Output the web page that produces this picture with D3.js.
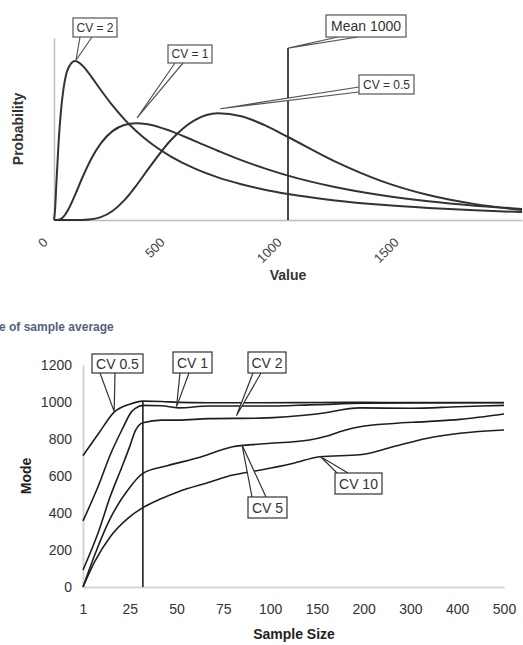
<!DOCTYPE html>
<html>
<head>
<meta charset="utf-8">
<script src="https://d3js.org/d3.v7.min.js"></script>
<style>
  body { margin: 0; background: #fff; }
  svg { display: block; font-family: "Liberation Sans", Arial, sans-serif; }
</style>
</head>
<body>
<div id="chart"></div>
<script>
var values = [0, 5, 10, 20, 30, 40, 60, 90, 120, 160, 200, 250, 300, 350, 400, 500, 600, 700, 800, 900, 1000, 1200, 1400, 1600, 1800, 2000];
var probCV2 = [0, 1.19, 3.54, 7.83, 10.85, 12.86, 14.96, 15.72, 15.31, 14.16, 12.86, 11.33, 9.98, 8.82, 7.83, 6.27, 5.10, 4.22, 3.54, 3.00, 2.57, 1.94, 1.50, 1.19, 0.96, 0.78];
var probCV1 = [0, 0, 0, 0.02, 0.12, 0.31, 0.99, 2.48, 4.13, 6.09, 7.58, 8.79, 9.40, 9.58, 9.48, 8.79, 7.83, 6.85, 5.92, 5.11, 4.39, 3.26, 2.44, 1.85, 1.42, 1.10];
var probCV05 = [0, 0, 0, 0, 0, 0, 0, 0, 0.01, 0.07, 0.28, 0.89, 1.94, 3.36, 4.95, 7.91, 9.85, 10.55, 10.27, 9.38, 8.21, 5.80, 3.85, 2.47, 1.57, 0.99];
var valueTicks = [0, 500, 1000, 1500];
var meanValue = 1000;

// bottom chart: mode of sample average vs sample size
var sizeTicks = [1, 25, 50, 75, 100, 150, 200, 300, 400, 500];
var modeTicks = [0, 200, 400, 600, 800, 1000, 1200];
var modeCV05 = [[1, 710], [9, 830], [17, 945], [25, 988], [32, 1005], [42, 1003], [51, 998], [67, 996], [95, 996], [150, 997], [200, 998], [300, 997], [400, 997], [500, 997]];
var modeCV1 = [[1, 357], [9, 550], [15, 715], [21, 850], [26, 948], [28, 966], [32, 982], [42, 980], [51, 968], [67, 978], [95, 978], [150, 986], [200, 993], [300, 995], [500, 996]];
var modeCV2 = [[1, 92], [9, 300], [15, 490], [21, 650], [25, 760], [28, 845], [32, 888], [42, 902], [51, 902], [67, 910], [95, 913], [150, 935], [196, 968], [300, 966], [400, 974], [500, 982]];
var modeCV5 = [[1, 0], [7, 173], [15, 371], [24, 524], [32, 614], [45, 655], [62, 700], [80, 758], [95, 773], [142, 795], [160, 815], [178, 845], [196, 866], [263, 884], [334, 894], [406, 906], [500, 935]];
var modeCV10 = [[1, 0], [7, 137], [15, 272], [24, 371], [32, 429], [42, 478], [51, 515], [67, 565], [80, 605], [95, 632], [125, 669], [153, 704], [196, 715], [263, 758], [334, 803], [406, 831], [500, 849]];
var sampleMark = 32;

var svg = d3.select("#chart")
  .append("svg")
  .attr("width", 523)
  .attr("height", 645);

// ---------- top chart ----------
var x1 = d3.scaleLinear().domain([0, 2000]).range([54, 522]);
var y1 = d3.scaleLinear().domain([0, 18]).range([220, 38]);

var xAxis1 = svg.append("g")
  .attr("transform", "translate(0,220)")
  .call(d3.axisBottom(x1).tickValues(valueTicks).tickFormat(d3.format("d")).tickSize(0).tickSizeOuter(0));
xAxis1.select(".domain").attr("stroke", "#bdbdbd").attr("stroke-width", 1.5);
xAxis1.selectAll("text")
  .attr("y", 0)
  .attr("dy", "0.35em")
  .attr("text-anchor", "end")
  .attr("transform", "translate(-9,20) rotate(-45)")
  .attr("font-size", "13px")
  .attr("font-family", "Liberation Sans, Arial, sans-serif")
  .attr("fill", "#444");

var yAxis1 = svg.append("g")
  .attr("transform", "translate(54,0)")
  .call(d3.axisLeft(y1).tickValues([]).tickSizeOuter(0));
yAxis1.select(".domain").attr("stroke", "#bdbdbd").attr("stroke-width", 1.5);

var line1 = d3.line()
  .x(function(d, i) { return x1(values[i]); })
  .y(function(d) { return y1(d); })
  .curve(d3.curveMonotoneX);

[probCV2, probCV1, probCV05].forEach(function(s) {
  svg.append("path")
    .attr("d", line1(s))
    .attr("fill", "none")
    .attr("stroke", "#333")
    .attr("stroke-width", 2);
});

// mean line
svg.append("line")
  .attr("x1", x1(meanValue)).attr("x2", x1(meanValue))
  .attr("y1", y1(0)).attr("y2", y1(17))
  .attr("stroke", "#333")
  .attr("stroke-width", 1.8);

svg.append("text")
  .attr("transform", "translate(23,129) rotate(-90)")
  .attr("text-anchor", "middle")
  .attr("font-size", "14px")
  .attr("font-weight", "bold")
  .attr("fill", "#333")
  .text("Probability");

svg.append("text")
  .attr("x", 288)
  .attr("y", 280)
  .attr("text-anchor", "middle")
  .attr("font-size", "14px")
  .attr("font-weight", "bold")
  .attr("fill", "#333")
  .text("Value");

// callouts (tip in data units, box/base in pixels)
var topNotes = [
  {text: "CV = 2", tip: [94, 15.8], box: [73, 18, 44, 19], base: [[80, 37], [92, 37]], size: 12},
  {text: "CV = 1", tip: [355, 10.1], box: [168, 45, 44, 18], base: [[175, 63], [183, 63]], size: 12},
  {text: "Mean 1000", tip: [1000, 17], box: [326, 15, 80, 22], base: [[338, 37], [358, 37]], size: 14},
  {text: "CV = 0.5", tip: [710, 11], box: [359, 75, 55, 19], base: [[359, 87], [359, 92]], size: 12}
];

function drawNote(n, xs, ys, stroke) {
  var tx = xs(n.tip[0]), ty = ys(n.tip[1]);
  svg.append("path")
    .attr("d", "M" + n.base[0][0] + "," + n.base[0][1] + "L" + tx + "," + ty + "L" + n.base[1][0] + "," + n.base[1][1])
    .attr("fill", "#fff")
    .attr("stroke", stroke)
    .attr("stroke-width", 1.2);
  svg.append("rect")
    .attr("x", n.box[0]).attr("y", n.box[1])
    .attr("width", n.box[2]).attr("height", n.box[3])
    .attr("fill", "#fff")
    .attr("stroke", stroke)
    .attr("stroke-width", 1.2);
  svg.append("text")
    .attr("x", n.box[0] + n.box[2] / 2)
    .attr("y", n.box[1] + n.box[3] / 2)
    .attr("dy", "0.36em")
    .attr("text-anchor", "middle")
    .attr("font-size", n.size + "px")
    .attr("fill", "#333")
    .text(n.text);
}
topNotes.forEach(function(n) { drawNote(n, x1, y1, "#555"); });

// section title (cut at left edge)
svg.append("text")
  .attr("x", -1)
  .attr("y", 331)
  .attr("font-size", "12px")
  .attr("font-weight", "bold")
  .attr("fill", "#55617f")
  .text("e of sample average");

// ---------- bottom chart ----------
var xPoint = d3.scalePoint().domain(sizeTicks).range([83, 504]);
var x2 = d3.scaleLinear().domain(sizeTicks).range(sizeTicks.map(function(d) { return xPoint(d); }));
var y2 = d3.scaleLinear().domain([0, 1200]).range([587, 365]);

var xAxis2 = svg.append("g")
  .attr("transform", "translate(0,587)")
  .call(d3.axisBottom(xPoint).tickSize(0).tickSizeOuter(0).tickPadding(17));
xAxis2.select(".domain").attr("stroke", "#d4d4d4").attr("stroke-width", 2);
xAxis2.selectAll("text")
  .attr("font-size", "14px")
  .attr("font-family", "Liberation Sans, Arial, sans-serif")
  .attr("fill", "#333");

var yAxis2 = svg.append("g")
  .attr("transform", "translate(83,0)")
  .call(d3.axisLeft(y2).tickValues(modeTicks).tickFormat(d3.format("d")).tickSize(0).tickSizeOuter(0).tickPadding(11));
yAxis2.select(".domain").attr("stroke", "#d4d4d4").attr("stroke-width", 2);
yAxis2.selectAll("text")
  .attr("font-size", "14px")
  .attr("font-family", "Liberation Sans, Arial, sans-serif")
  .attr("fill", "#333");

var line2 = d3.line()
  .x(function(d) { return x2(d[0]); })
  .y(function(d) { return y2(d[1]); })
  .curve(d3.curveMonotoneX);

[modeCV05, modeCV1, modeCV2, modeCV5, modeCV10].forEach(function(s) {
  svg.append("path")
    .attr("d", line2(s))
    .attr("fill", "none")
    .attr("stroke", "#1e1e1e")
    .attr("stroke-width", 1.6);
});

svg.append("line")
  .attr("x1", x2(sampleMark)).attr("x2", x2(sampleMark))
  .attr("y1", y2(0)).attr("y2", y2(1000))
  .attr("stroke", "#1e1e1e")
  .attr("stroke-width", 1.6);

svg.append("text")
  .attr("transform", "translate(31,476) rotate(-90)")
  .attr("text-anchor", "middle")
  .attr("font-size", "14px")
  .attr("font-weight", "bold")
  .attr("fill", "#222")
  .text("Mode");

svg.append("text")
  .attr("x", 294)
  .attr("y", 639)
  .attr("text-anchor", "middle")
  .attr("font-size", "14px")
  .attr("font-weight", "bold")
  .attr("fill", "#222")
  .text("Sample Size");

var bottomNotes = [
  {text: "CV 0.5", tip: [17, 948], box: [92, 354, 51, 19], base: [[100, 373], [115, 373]], size: 14},
  {text: "CV 1", tip: [50, 975], box: [173, 352, 39, 21], base: [[180, 373], [189, 373]], size: 14},
  {text: "CV 2", tip: [82, 926], box: [248, 352, 38, 21], base: [[253, 373], [261, 373]], size: 14},
  {text: "CV 5", tip: [85, 768], box: [248, 497, 39, 21], base: [[252, 497], [266, 497]], size: 14},
  {text: "CV 10", tip: [154, 704], box: [335, 473, 47, 21], base: [[337, 473], [348, 473]], size: 14}
];
bottomNotes.forEach(function(n) { drawNote(n, x2, y2, "#333"); });
</script>
</body>
</html>
